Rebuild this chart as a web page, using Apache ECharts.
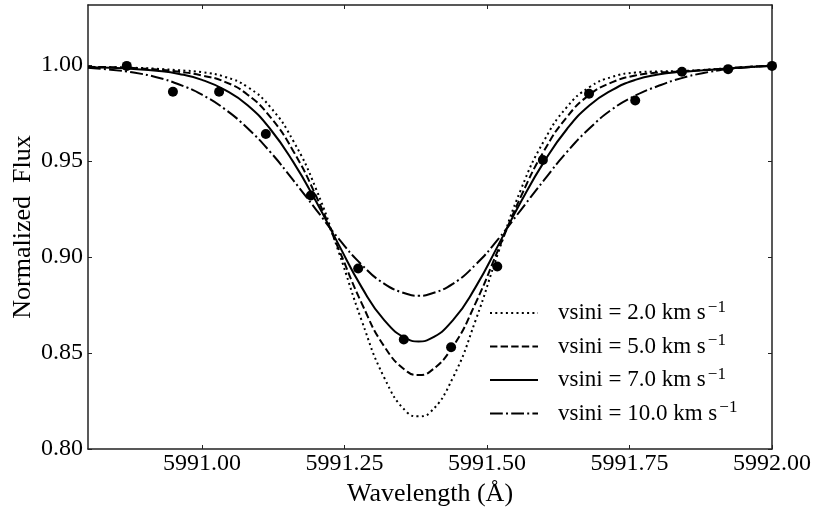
<!DOCTYPE html>
<html>
<head>
<meta charset="utf-8">
<script src="https://cdn.jsdelivr.net/npm/echarts@6/dist/echarts.min.js"></script>
<style>
  html, body { margin: 0; padding: 0; background: #fff; }
  #main { width: 814px; height: 514px; }
</style>
</head>
<body>
<div id="main"></div>
<script>
// wavelengths of the model profiles
var wave = [5990.80, 5990.84, 5990.88, 5990.92, 5990.96, 5991.00, 5991.04, 5991.08,
  5991.12, 5991.16, 5991.20, 5991.24, 5991.28, 5991.32, 5991.36, 5991.38, 5991.40,
  5991.44, 5991.48, 5991.52, 5991.56, 5991.60, 5991.64, 5991.68, 5991.72, 5991.76,
  5991.80, 5991.84, 5991.88, 5991.92, 5991.96, 5992.00];

var flux2 = [0.9990, 0.9988, 0.9985, 0.9980, 0.9972, 0.9962, 0.9938, 0.9885,
  0.9780, 0.9605, 0.9355, 0.9025, 0.8670, 0.8370, 0.8190, 0.8170, 0.8190,
  0.8370, 0.8670, 0.9025, 0.9355, 0.9605, 0.9780, 0.9885, 0.9938, 0.9960,
  0.9966, 0.9968, 0.9974, 0.9982, 0.9990, 0.9997];
var flux5 = [0.9990, 0.9988, 0.9984, 0.9976, 0.9964, 0.9945, 0.9912, 0.9845,
  0.9728, 0.9552, 0.9318, 0.9040, 0.8760, 0.8533, 0.8403, 0.8385, 0.8403,
  0.8533, 0.8760, 0.9040, 0.9318, 0.9552, 0.9728, 0.9845, 0.9910, 0.9945,
  0.9960, 0.9966, 0.9973, 0.9982, 0.9990, 0.9997];
var flux7 = [0.9988, 0.9985, 0.9979, 0.9970, 0.9953, 0.9922, 0.9870, 0.9790,
  0.9665, 0.9495, 0.9290, 0.9063, 0.8843, 0.8670, 0.8573, 0.8560, 0.8573,
  0.8670, 0.8843, 0.9063, 0.9290, 0.9495, 0.9665, 0.9790, 0.9870, 0.9922,
  0.9950, 0.9964, 0.9972, 0.9981, 0.9989, 0.9996];
var flux10 = [0.9985, 0.9975, 0.9960, 0.9936, 0.9898, 0.9845, 0.9770, 0.9670,
  0.9546, 0.9400, 0.9247, 0.9094, 0.8960, 0.8860, 0.8807, 0.8798, 0.8807,
  0.8860, 0.8960, 0.9094, 0.9247, 0.9400, 0.9546, 0.9670, 0.9770, 0.9840,
  0.9890, 0.9930, 0.9958, 0.9977, 0.9988, 0.9995];

// observed spectrum
var obsWave = [5990.868, 5990.949, 5991.030, 5991.112, 5991.191, 5991.274, 5991.354,
  5991.437, 5991.518, 5991.598, 5991.679, 5991.760, 5991.842, 5991.923, 5992.000];
var obsFlux = [0.9995, 0.9860, 0.9860, 0.9640, 0.9320, 0.8940, 0.8570,
  0.8530, 0.8950, 0.9505, 0.9850, 0.9815, 0.9964, 0.9978, 0.9995];

var seriesNames = ['vsini = 2.0 km s−1', 'vsini = 5.0 km s−1', 'vsini = 7.0 km s−1', 'vsini = 10.0 km s−1'];
var xTicks = [5991.00, 5991.25, 5991.50, 5991.75, 5992.00];
var yTicks = [0.80, 0.85, 0.90, 0.95, 1.00];

function pairs(xs, ys) {
  var out = [];
  for (let i = 0; i < xs.length; ++i) out.push([xs[i], ys[i]]);
  return out;
}

var font = 'Liberation Serif, Times New Roman, serif';
var axisCol = '#222';

function lineSeries(name, data, type) {
  return {
    name: name,
    type: 'line',
    data: pairs(wave, data),
    smooth: 0.5,
    symbol: 'none',
    itemStyle: { color: '#000' },
    lineStyle: { color: '#000', width: 2, type: type, cap: 'butt' },
    z: 3
  };
}

var chart = echarts.init(document.getElementById('main'));
var option = {
  animation: false,
  backgroundColor: '#fff',
  grid: { left: 88, right: 42, top: 5, bottom: 65, outerBoundsMode: 'none', containLabel: false },
  legend: {
    data: seriesNames,
    orient: 'vertical',
    left: 484,
    top: 294,
    itemWidth: 48,
    itemHeight: 14,
    itemGap: 8,
    itemStyle: { opacity: 0 },
    formatter: function (n) {
      return '{m|' + n.replace(' s−1', ' s') + '}{sup|−1}';
    },
    textStyle: {
      fontFamily: font,
      color: '#000',
      padding: [0, 0, 0, 15],
      rich: {
        m: { fontFamily: font, fontSize: 23, color: '#000', lineHeight: 28 },
        sup: { fontFamily: font, fontSize: 17, color: '#000', lineHeight: 28, verticalAlign: 'top', padding: [0, 0, 0, 2] }
      }
    }
  },
  xAxis: [{
    type: 'value',
    min: 5990.8,
    max: 5992.0,
    name: 'Wavelength (Å)',
    nameLocation: 'middle',
    nameGap: 30,
    nameTextStyle: { fontFamily: font, fontSize: 26, color: '#000' },
    axisLine: { show: true, lineStyle: { color: axisCol, width: 1.5 } },
    axisTick: { show: true, inside: true, length: 4, customValues: xTicks, lineStyle: { color: axisCol } },
    axisLabel: {
      customValues: xTicks, margin: 3,
      fontFamily: font, fontSize: 24, color: '#000',
      formatter: function (v) { return v.toFixed(2); }
    },
    splitLine: { show: false }
  }, {
    type: 'value',
    position: 'top',
    min: 5990.8,
    max: 5992.0,
    axisLine: { show: true, lineStyle: { color: axisCol, width: 1.5 } },
    axisTick: { show: true, inside: true, length: 4, customValues: xTicks, lineStyle: { color: axisCol } },
    axisLabel: { show: false },
    splitLine: { show: false }
  }],
  yAxis: [{
    type: 'value',
    min: 0.80,
    max: 1.0312,
    name: 'Normalized  Flux',
    nameLocation: 'middle',
    nameGap: 52,
    nameMoveOverlap: false,
    nameTextStyle: { fontFamily: font, fontSize: 26, color: '#000' },
    axisLine: { show: true, lineStyle: { color: axisCol, width: 1.5 } },
    axisTick: { show: true, inside: true, length: 4, customValues: yTicks, lineStyle: { color: axisCol } },
    axisLabel: {
      customValues: yTicks, margin: 5,
      fontFamily: font, fontSize: 24, color: '#000',
      formatter: function (v) { return v.toFixed(2); }
    },
    splitLine: { show: false }
  }, {
    type: 'value',
    position: 'right',
    min: 0.80,
    max: 1.0312,
    axisLine: { show: true, lineStyle: { color: axisCol, width: 1.5 } },
    axisTick: { show: true, inside: true, length: 4, customValues: yTicks, lineStyle: { color: axisCol } },
    axisLabel: { show: false },
    splitLine: { show: false }
  }],
  series: [
    lineSeries(seriesNames[0], flux2, [2, 3.3]),
    lineSeries(seriesNames[1], flux5, [7.4, 3.2]),
    lineSeries(seriesNames[2], flux7, 'solid'),
    lineSeries(seriesNames[3], flux10, [12.8, 3.2, 2, 3.2]),
    {
      name: 'observed',
      type: 'scatter',
      data: pairs(obsWave, obsFlux),
      symbol: 'circle',
      symbolSize: 10,
      itemStyle: { color: '#000', opacity: 1 },
      z: 4
    }
  ]
};
chart.setOption(option);
</script>
</body>
</html>
